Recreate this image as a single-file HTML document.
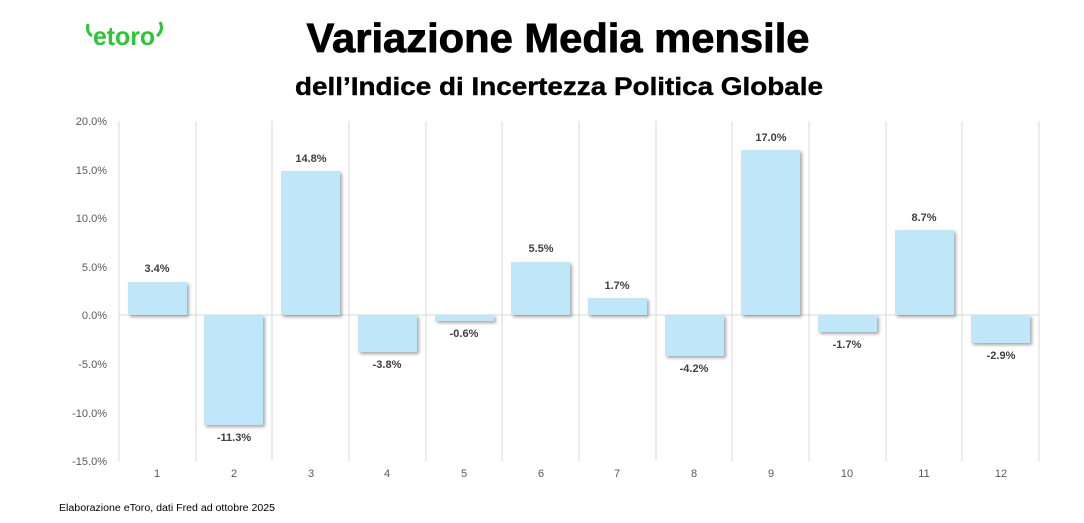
<!DOCTYPE html>
<html><head><meta charset="utf-8"><style>body{margin:0;background:#fff}svg{display:block}</style></head>
<body>
<svg width="1084" height="523" xmlns="http://www.w3.org/2000/svg" font-family="Liberation Sans, sans-serif">
<defs><filter id="sh" x="-10%" y="-10%" width="130%" height="130%"><feDropShadow dx="2" dy="2" stdDeviation="1.5" flood-color="#000" flood-opacity="0.35"/></filter></defs>
<path d="M88 24 Q86 32 92 36" stroke="#2fc43a" stroke-width="3" fill="none"/>
<path d="M160 22 Q164 30 157 36" stroke="#2fc43a" stroke-width="3" fill="none"/>
<text x="93" y="45" font-size="26" font-weight="bold" fill="#2fc43a" textLength="62" lengthAdjust="spacingAndGlyphs">etoro</text>
<text x="558" y="52" font-size="41" font-weight="bold" text-anchor="middle" textLength="503" lengthAdjust="spacingAndGlyphs" stroke="#000" stroke-width="0.8">Variazione Media mensile</text>
<text x="559" y="95" font-size="25" font-weight="bold" text-anchor="middle" textLength="528" lengthAdjust="spacingAndGlyphs" stroke="#000" stroke-width="0.4">dell’Indice di Incertezza Politica Globale</text>
<g stroke="#d9d9d9" stroke-width="1">
<line x1="119" y1="121" x2="119" y2="461"/><line x1="196" y1="121" x2="196" y2="461"/><line x1="272" y1="121" x2="272" y2="461"/><line x1="349" y1="121" x2="349" y2="461"/><line x1="426" y1="121" x2="426" y2="461"/><line x1="502" y1="121" x2="502" y2="461"/><line x1="579" y1="121" x2="579" y2="461"/><line x1="656" y1="121" x2="656" y2="461"/><line x1="732" y1="121" x2="732" y2="461"/><line x1="809" y1="121" x2="809" y2="461"/><line x1="886" y1="121" x2="886" y2="461"/><line x1="962" y1="121" x2="962" y2="461"/><line x1="1039" y1="121" x2="1039" y2="461"/>
<line x1="119" y1="315" x2="1039" y2="315"/>
</g>
<g font-size="11" fill="#595959" text-anchor="end">
<text x="107" y="125">20.0%</text><text x="107" y="174">15.0%</text><text x="107" y="222">10.0%</text><text x="107" y="271">5.0%</text><text x="107" y="319">0.0%</text><text x="107" y="368">-5.0%</text><text x="107" y="417">-10.0%</text><text x="107" y="465">-15.0%</text>
</g>
<g font-size="11" fill="#595959" text-anchor="middle">
<text x="157" y="477">1</text><text x="234" y="477">2</text><text x="311" y="477">3</text><text x="387" y="477">4</text><text x="464" y="477">5</text><text x="541" y="477">6</text><text x="617" y="477">7</text><text x="694" y="477">8</text><text x="771" y="477">9</text><text x="847" y="477">10</text><text x="924" y="477">11</text><text x="1001" y="477">12</text>
</g>
<g fill="#bfe6f9" filter="url(#sh)">
<rect x="128" y="282" width="59" height="33"/>
<rect x="204" y="315" width="59" height="110"/>
<rect x="281" y="171" width="59" height="144"/>
<rect x="358" y="315" width="59" height="37"/>
<rect x="435" y="315" width="59" height="6"/>
<rect x="511" y="262" width="59" height="53"/>
<rect x="588" y="298" width="59" height="17"/>
<rect x="665" y="315" width="59" height="41"/>
<rect x="741" y="150" width="59" height="165"/>
<rect x="818" y="315" width="59" height="17"/>
<rect x="895" y="230" width="59" height="85"/>
<rect x="971" y="315" width="59" height="28"/>
</g>
<g font-size="11" font-weight="bold" fill="#404040" text-anchor="middle">
<text x="157" y="272">3.4%</text>
<text x="234" y="441">-11.3%</text>
<text x="311" y="162">14.8%</text>
<text x="387" y="368">-3.8%</text>
<text x="464" y="337">-0.6%</text>
<text x="541" y="252">5.5%</text>
<text x="617" y="289">1.7%</text>
<text x="694" y="372">-4.2%</text>
<text x="771" y="141">17.0%</text>
<text x="847" y="348">-1.7%</text>
<text x="924" y="221">8.7%</text>
<text x="1001" y="359">-2.9%</text>
</g>
<text x="59" y="511" font-size="10" fill="#000" textLength="216" lengthAdjust="spacingAndGlyphs">Elaborazione eToro, dati Fred ad ottobre 2025</text>
</svg>
</body></html>
